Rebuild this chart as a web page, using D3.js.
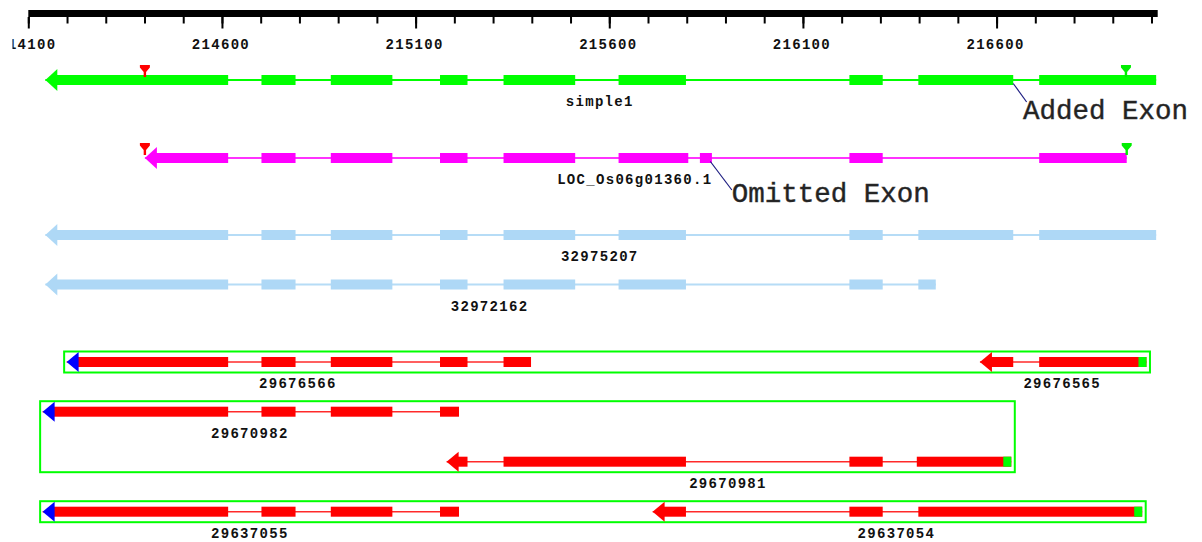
<!DOCTYPE html>
<html><head><meta charset="utf-8">
<script src="https://cdn.jsdelivr.net/npm/d3@7"></script>
<style>
html,body{margin:0;padding:0;background:#fff;}
svg{display:block;}
.lbl{font-family:"Liberation Mono","DejaVu Sans Mono",monospace;font-size:14px;font-weight:bold;letter-spacing:1.3px;fill:#111;}
.ann{font-family:"Liberation Mono","Courier New",monospace;font-size:27.5px;fill:#222;stroke:#333;stroke-width:0.45px;}
</style></head><body>
<svg id="chart" width="1202" height="542"></svg>
<script>
// ---------- DATA ----------
const axisDomain = [214100, 217016];
const majorTicks = [214100, 214600, 215100, 215600, 216100, 216600];
const minorTicks = [214100,214200,214300,214400,214500,214600,214700,214800,214900,215000,
  215100,215200,215300,215400,215500,215600,215700,215800,215900,216000,
  216100,216200,216300,216400,216500,216600,216700,216800,216900,217000];

const trackNames = ["simple1","LOC_Os06g01360.1","32975207","32972162",
  "29676566","29676565","29670982","29670981","29637055","29637054"];
const trackRows  = [0,1,2,3,4,4,5,6,7,7];
const trackKind  = ["green","magenta","blue","blue","red","red","red","red","red","red"];
const trackStart = [214144,214401,214144,214144,214199,216557,214137,215180,214137,215712];
const trackExons = [
  [[214144,214616],[214702,214790],[214881,215040],[215163,215234],[215327,215512],[215624,215798],[216220,216306],[216398,216643],[216710,217012]],
  [[214401,214616],[214702,214790],[214881,215040],[215163,215234],[215327,215512],[215624,215804],[215834,215865],[216220,216306],[216710,216936]],
  [[214144,214616],[214702,214790],[214881,215040],[215163,215234],[215327,215512],[215624,215798],[216220,216306],[216398,216643],[216710,217012]],
  [[214144,214616],[214702,214790],[214881,215040],[215163,215234],[215327,215512],[215624,215798],[216220,216306],[216398,216443]],
  [[214199,214616],[214702,214790],[214881,215040],[215163,215234],[215327,215398]],
  [[216557,216643],[216710,216987]],
  [[214137,214616],[214702,214790],[214881,215040],[215163,215212]],
  [[215180,215234],[215327,215798],[216220,216306],[216394,216638]],
  [[214137,214616],[214702,214790],[214881,215040],[215163,215212]],
  [[215712,215798],[216220,216306],[216398,216976]]
];
const headBlue = [false,false,false,false,true,false,true,false,true,false];
const tailCap  = [false,false,false,false,false,true,false,true,false,true];
const pairFirst  = [4,6,8];
const pairSecond = [5,7,9];

const markerTrack = [0,0,1,1];
const markerPos   = [214401,216934,214401,216936];
const markerKind  = ["red","green","red","green"];

const annText  = ["Added Exon","Omitted Exon"];
const annTrack = [0,1];
const annPos   = [216643,215861];

// ---------- LAYOUT ----------
const W = 1202, H = 542;
const svg = d3.select("#chart");
const x = d3.scaleLinear().domain(axisDomain).range([28.3, 1157.7]);
const rowY = [80,158,235,284.5,362,411.7,461.7,511.7];
const palette = {
  green:{fill:"#00ff00",line:"#00ff00"},
  magenta:{fill:"#ff00ff",line:"#ff33ff"},
  blue:{fill:"#aed8f6",line:"#b6dcf6"},
  red:{fill:"#ff0000",line:"#ff2a2a"}
};
const markerColor = {red:"#ff0000", green:"#00ee00"};
const annLayout = [
  {lx:13.4, ly:22, tx:9.7, ty:39.3},
  {lx:21.5, ly:32, tx:21.5, ty:44.3}
];

// defs
const defs = svg.append("defs");
defs.append("clipPath").attr("id","lclip").append("rect")
  .attr("x",12.5).attr("y",-30).attr("width",W).attr("height",100);

// ---------- AXIS ----------
const axisG = svg.append("g");
axisG.append("rect").attr("x",x.range()[0]).attr("y",10)
  .attr("width",x.range()[1]-x.range()[0]).attr("height",7).attr("fill","#000");
const minorG = axisG.append("g").attr("transform","translate(0,17)")
  .call(d3.axisBottom(x).tickValues(minorTicks).tickSize(6.5).tickFormat(""));
minorG.select(".domain").remove();
minorG.selectAll("line").attr("stroke","#000").attr("stroke-width",2);
const majorG = axisG.append("g").attr("transform","translate(0,17)").attr("clip-path","url(#lclip)")
  .call(d3.axisBottom(x).tickValues(majorTicks).tickSize(11.5).tickPadding(11).tickFormat(d=>String(d)));
majorG.select(".domain").remove();
majorG.selectAll("line").attr("stroke","#000").attr("stroke-width",2);
majorG.selectAll("text").attr("class","lbl").attr("dx",-1.5);

// ---------- TRACKS ----------
const tracksG = svg.append("g");

// boxes first
pairFirst.forEach((a,k)=>{
  const b = pairSecond[k];
  const ya = rowY[trackRows[a]], yb = rowY[trackRows[b]];
  const ends = [a,b].map(i=>trackExons[i][trackExons[i].length-1][1]);
  const x0 = Math.min(x(trackStart[a]), x(trackStart[b])) - 2.5;
  const x1 = Math.max(x(ends[0]), x(ends[1])) + 3.5;
  tracksG.append("rect").attr("x",x0).attr("y",Math.min(ya,yb)-10.5)
    .attr("width",x1-x0).attr("height",Math.abs(yb-ya)+21)
    .attr("fill","none").attr("stroke","#00ff00").attr("stroke-width",2);
});

trackNames.forEach((name,i)=>{
  const g = tracksG.append("g");
  const y = rowY[trackRows[i]];
  const ex = trackExons[i];
  const col = palette[trackKind[i]];
  const s = trackStart[i], e = ex[ex.length-1][1];
  const isRed = trackKind[i]==="red";
  const headLen = 12, hh = isRed?10:11, eh = 5;
  g.append("line").attr("x1",x(s)).attr("x2",x(e)).attr("y1",y).attr("y2",y)
    .attr("stroke",col.line).attr("stroke-width",isRed?1.6:2);
  ex.forEach((d,j)=>{
    let x0 = x(d[0]);
    if(j===0) x0 = x(s)+headLen-1;
    g.append("rect").attr("x",x0).attr("y",y-eh)
      .attr("width",Math.max(0,x(d[1])-x0)).attr("height",2*eh).attr("fill",col.fill);
  });
  const tx = x(s);
  g.append("path").attr("d",`M${tx},${y} L${tx+headLen},${y-hh} L${tx+headLen},${y+hh} Z`)
    .attr("fill",headBlue[i]?"#0000ff":col.fill);
  if(tailCap[i]){
    g.append("rect").attr("x",x(e)-8).attr("y",y-eh).attr("width",8).attr("height",2*eh).attr("fill","#00ff00");
  }
  g.append("text").attr("class","lbl").attr("text-anchor","middle")
    .attr("x",(x(s)+x(e))/2-1).attr("y",y+26).text(name);
});

// markers
markerTrack.forEach((t,k)=>{
  const y = rowY[trackRows[t]] - 15;
  const mx = x(markerPos[k]);
  tracksG.append("path")
    .attr("d",`M${mx-5},${y} H${mx+5} V${y+2.5} L${mx+1.2},${y+7} V${y+12} H${mx-1.2} V${y+7} L${mx-5},${y+2.5} Z`)
    .attr("fill",markerColor[markerKind[k]]);
});

// annotations
annText.forEach((t,k)=>{
  const y = rowY[trackRows[annTrack[k]]];
  const ax = x(annPos[k]);
  const L = annLayout[k];
  tracksG.append("line").attr("x1",ax).attr("y1",y+3.5).attr("x2",ax+L.lx).attr("y2",y+L.ly)
    .attr("stroke","#1c1c80").attr("stroke-width",1.2);
  tracksG.append("text").attr("class","ann").attr("x",ax+L.tx).attr("y",y+L.ty).text(t);
});
</script>
</body></html>
